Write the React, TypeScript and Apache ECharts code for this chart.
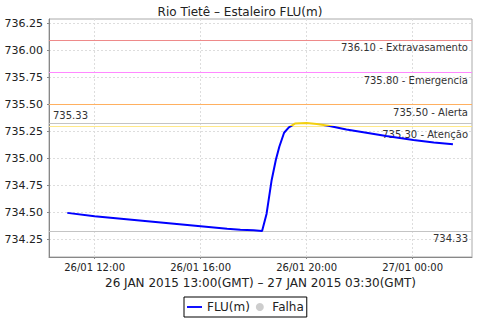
import React, { useEffect, useRef } from "react";
import * as echarts from "echarts";

// time in hours since 26/01/2015 00:00 (local)
const times = [10.97, 12.0, 13.0, 14.0, 15.0, 16.0, 17.0, 17.5, 18.0, 18.32, 18.49, 18.68, 18.84, 18.97, 19.15, 19.33, 19.56, 20.0, 20.38, 20.82, 21.5, 22.14, 23.0, 24.03, 24.8, 25.52];
const levels = [734.497, 734.466, 734.443, 734.42, 734.397, 734.374, 734.35, 734.34, 734.335, 734.33, 734.49, 734.8, 734.99, 735.11, 735.24, 735.29, 735.325, 735.33, 735.32, 735.305, 735.27, 735.245, 735.21, 735.172, 735.15, 735.132];

const yTicks = [734.25, 734.5, 734.75, 735.0, 735.25, 735.5, 735.75, 736.0, 736.25];
const xTicks = [12, 16, 20, 24];

const thresholdValues = [736.1, 735.8, 735.5, 735.3];
const thresholdNames = ["Extravasamento", "Emergencia", "Alerta", "Atenção"];
const thresholdColors = ["#ee8a8a", "#ff88ff", "#ffb060", "#ffe98a"];

const maxValue = 735.33;
const minValue = 734.33;

const FONT = "DejaVu Sans";

export default function App() {
  const ref = useRef<HTMLDivElement>(null);
  useEffect(() => {
    const chart = echarts.init(ref.current!, null, { renderer: "svg" });
    const data = times.map((t, i) => [t, levels[i]]);
    const lvlLabel = (text: string, position: string) => ({
      show: true,
      position,
      formatter: text,
      color: "#333",
      fontSize: 10,
      fontFamily: FONT,
      distance: [4, 3],
    });
    const markData: any[] = thresholdValues.map((v, i) => ({
      yAxis: v,
      lineStyle: { color: thresholdColors[i], width: 1, type: "solid" },
      label: lvlLabel(v.toFixed(2) + " - " + thresholdNames[i], "insideEndBottom"),
    }));
    markData.push({
      yAxis: maxValue,
      lineStyle: { color: "#c4c4c4", width: 1, type: "solid" },
      label: lvlLabel(maxValue.toFixed(2), "insideStartTop"),
    });
    markData.push({
      yAxis: minValue,
      lineStyle: { color: "#c4c4c4", width: 1, type: "solid" },
      label: lvlLabel(minValue.toFixed(2), "insideEndBottom"),
    });

    const fmtX = (h: number) => {
      const day = 26 + Math.floor(h / 24);
      const hh = Math.round(h % 24);
      return day + "/01 " + String(hh).padStart(2, "0") + ":00";
    };

    chart.setOption({
      animation: false,
      backgroundColor: "#fff",
      title: {
        text: "Rio Tietê – Estaleiro FLU(m)",
        left: "center",
        top: 1,
        textStyle: { fontSize: 12, fontWeight: "normal", color: "#222", fontFamily: FONT },
      },
      grid: {
        left: 49,
        top: 19,
        right: 8,
        bottom: 63,
        show: true,
        borderColor: "#aaa",
        borderWidth: 1,
        containLabel: false,
        outerBoundsMode: "none",
      },
      legend: {
        left: 184,
        top: 297,
        padding: [4, 3],
        borderColor: "#000",
        borderWidth: 1,
        itemGap: 6,
        itemWidth: 15,
        itemHeight: 8,
        textStyle: { fontSize: 12, color: "#222", fontFamily: FONT },
        data: [
          { name: "FLU(m)", icon: "path://M0,0L16,0L16,2L0,2Z", itemStyle: { color: "#0000ff" } },
          { name: "Falha", icon: "circle", itemStyle: { color: "#c0c0c0" } },
        ],
      },
      visualMap: {
        show: false,
        type: "piecewise",
        seriesIndex: 0,
        dimension: 1,
        pieces: [
          { gt: 735.3, lte: 740, color: "#f2cf10" },
          { gt: 730, lte: 735.3, color: "#0000ff" },
        ],
      },
      xAxis: {
        type: "value",
        min: 10.28,
        max: 26.24,
        name: "26 JAN 2015 13:00(GMT) – 27 JAN 2015 03:30(GMT)",
        nameLocation: "middle",
        nameGap: 18,
        nameTextStyle: { fontSize: 12, color: "#222", fontFamily: FONT },
        axisLine: { show: true, lineStyle: { color: "#888" } },
        axisTick: { show: true, length: 2, customValues: xTicks, lineStyle: { color: "#888" } },
        axisLabel: {
          customValues: xTicks,
          formatter: (v: number) => fmtX(v),
          fontSize: 10,
          color: "#222",
          margin: 5,
          fontFamily: FONT,
        },
        splitLine: { show: true, lineStyle: { color: "#ddd", type: [2, 2] } },
      },
      yAxis: {
        type: "value",
        min: 734.088,
        max: 736.294,
        axisLine: { show: true, lineStyle: { color: "#888" } },
        axisTick: { show: true, length: 2, customValues: yTicks, lineStyle: { color: "#888" } },
        axisLabel: {
          customValues: yTicks,
          formatter: (v: number) => v.toFixed(2),
          fontSize: 11,
          color: "#222",
          margin: 6,
          fontFamily: FONT,
        },
        splitLine: { show: true, lineStyle: { color: "#ddd", type: [2, 2] } },
      },
      series: [
        {
          name: "FLU(m)",
          type: "line",
          data,
          showSymbol: false,
          symbol: "none",
          color: "#0000ff",
          lineStyle: { width: 2 },
          markLine: { silent: true, symbol: "none", data: markData },
          z: 5,
        },
        {
          name: "Falha",
          type: "scatter",
          data: [],
          color: "#c0c0c0",
        },
      ],
    });
    return () => chart.dispose();
  }, []);
  return (
    <div
      ref={ref}
      style={{ position: "absolute", left: 0, top: 0, width: 480, height: 320, background: "#fff" }}
    />
  );
}
